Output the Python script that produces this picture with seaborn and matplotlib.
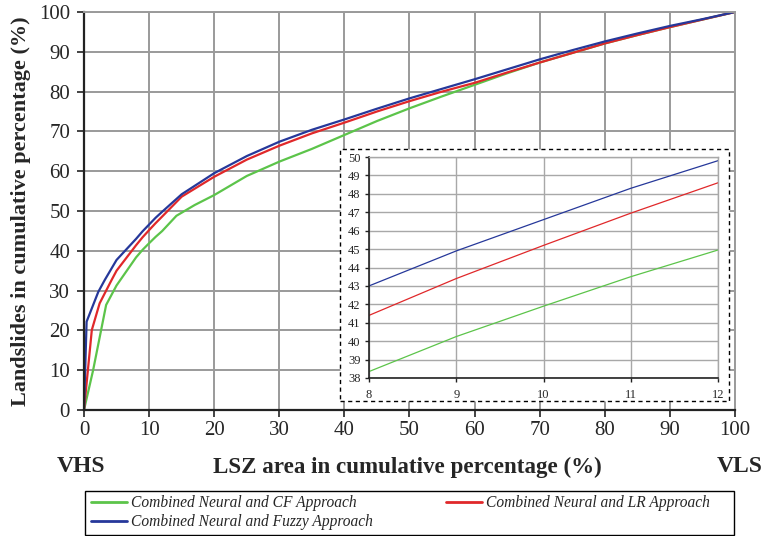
import matplotlib
matplotlib.use("Agg")
import matplotlib.pyplot as plt
import seaborn as sns
import pandas as pd
from matplotlib.patches import Rectangle

sns.set_theme(style="white")
plt.rcParams['font.family'] = ['Liberation Serif', 'DejaVu Serif']

# ---- data ----
x_cf = [0, 1.4, 3.4, 5, 8, 9, 10, 11, 12, 14.2, 17, 20, 25, 30, 35, 40, 45, 50, 55, 60, 65, 70, 75, 80, 85, 90, 95, 100]
y_cf = [0, 10, 26.4, 31.3, 38.35, 40.25, 41.9, 43.5, 44.95, 48.8, 51.5, 54.0, 58.8, 62.4, 65.6, 69.1, 72.6, 75.8, 78.8, 81.7, 84.6, 87.3, 89.7, 92.1, 94.2, 96.2, 98.1, 100]

x_lr = [0, 1.2, 2.4, 4.25, 5, 8, 9, 10, 11, 12, 15, 20, 25, 30, 35, 40, 45, 50, 55, 60, 65, 70, 75, 80, 85, 90, 95, 100]
y_lr = [0, 20.1, 26.8, 32.7, 35.0, 41.4, 43.4, 45.2, 46.95, 48.6, 53.6, 58.6, 62.9, 66.4, 69.5, 72.2, 75.0, 77.6, 80.0, 82.2, 84.8, 87.3, 89.7, 92.1, 94.2, 96.2, 98.1, 100]

x_fz = [0, 0.4, 2.2, 3.2, 5, 8, 9, 10, 11, 12, 15, 20, 25, 30, 35, 40, 45, 50, 55, 60, 65, 70, 75, 80, 85, 90, 95, 100]
y_fz = [0, 22.2, 29.7, 32.7, 37.7, 43.0, 44.9, 46.6, 48.3, 49.8, 54.2, 59.5, 63.8, 67.4, 70.4, 73.0, 75.7, 78.3, 80.7, 83.1, 85.6, 88.1, 90.4, 92.6, 94.6, 96.5, 98.2, 100]

labels = ["Combined Neural and CF Approach",
          "Combined Neural and LR Approach",
          "Combined Neural and Fuzzy Approach"]
colors = ["#5cc44a", "#e0282a", "#26389a"]

main_ticks = [0, 10, 20, 30, 40, 50, 60, 70, 80, 90, 100]
inset_xticks = [8, 9, 10, 11, 12]
inset_yticks = list(range(38, 51))

df = pd.concat([
    pd.DataFrame({"x": x_cf, "y": y_cf, "s": labels[0]}),
    pd.DataFrame({"x": x_lr, "y": y_lr, "s": labels[1]}),
    pd.DataFrame({"x": x_fz, "y": y_fz, "s": labels[2]}),
], ignore_index=True)
palette = dict(zip(labels, colors))

W, H = 765, 536
fig = plt.figure(figsize=(7.65, 5.36), dpi=100)
ax = fig.add_axes([84/W, 1-410/H, 651/W, 398/H])

sns.lineplot(data=df, x="x", y="y", hue="s", palette=palette, hue_order=labels,
             sort=False, estimator=None, linewidth=1.6, ax=ax, legend=False)

grid_c = "#9a9a9a"
ax.set_xlim(0, 100)
ax.set_ylim(0, 100)
ax.set_xticks(main_ticks)
ax.set_yticks(main_ticks)
ax.grid(True, color=grid_c, linewidth=1.4)
ax.set_axisbelow(True)
for s in ["top", "right"]:
    ax.spines[s].set_color(grid_c)
    ax.spines[s].set_linewidth(1.4)
for s in ["left", "bottom"]:
    ax.spines[s].set_color("#222222")
    ax.spines[s].set_linewidth(1.6)
ax.tick_params(axis="both", which="major", direction="out", length=5, width=1.2,
               color="#222222", labelsize=15, bottom=True, left=True)
ax.tick_params(axis="y", pad=5)
ax.tick_params(axis="x", pad=3)
ax.set_xlabel("")
ax.set_ylabel("Landslides in cumulative percentage (%)", fontsize=16,
              fontweight="bold", labelpad=6)

fig.text(407/W, 1-467/H, "LSZ area in cumulative percentage (%)", fontsize=16.6,
         fontweight="bold", ha="center", va="center")
fig.text(81/W, 1-467/H, "VHS", fontsize=17, fontweight="bold", ha="center", va="center")
fig.text(740/W, 1-467/H, "VLS", fontsize=17, fontweight="bold", ha="center", va="center")

# dashed inset frame
box = Rectangle((340/W, 1-401/H), 389/W, 252/H, transform=fig.transFigure,
                facecolor="white", edgecolor="black", linestyle=(0, (3, 2.5)),
                linewidth=1.0, zorder=5)
fig.patches.append(box)

ins = fig.add_axes([369/W, 1-378/H, 349/W, 221/H], zorder=6)
sns.lineplot(data=df, x="x", y="y", hue="s", palette=palette, hue_order=labels,
             sort=False, estimator=None, linewidth=0.9, ax=ins, legend=False)
ins.set_xlim(8, 12)
ins.set_ylim(38, 50)
ins.set_xticks(inset_xticks)
ins.set_yticks(inset_yticks)
ins.grid(True, color="#a8a8a8", linewidth=1.0)
ins.set_axisbelow(True)
for s in ["top", "right"]:
    ins.spines[s].set_color("#a8a8a8")
    ins.spines[s].set_linewidth(1.0)
for s in ["left", "bottom"]:
    ins.spines[s].set_color("#222222")
    ins.spines[s].set_linewidth(1.2)
ins.tick_params(axis="both", direction="out", length=3, width=1.0, color="#222222",
                labelsize=9, pad=3, bottom=True, left=True)
ins.tick_params(axis="x", pad=5)
ins.set_xlabel("")
ins.set_ylabel("")

# legend frame and entries
frame = Rectangle((85/W, 1-535/H), 649/W, 44/H, transform=fig.transFigure,
                  facecolor="white", edgecolor="black", linewidth=1.0, zorder=4)
fig.patches.append(frame)
handles = [plt.Line2D([], [], color=c, linewidth=2) for c in colors]
order = [0, 2, 1]
leg = fig.legend([handles[i] for i in order], [labels[i] for i in order],
                 loc="upper left", bbox_to_anchor=(91/W, 1-495/H),
                 ncol=2, frameon=False,
                 prop={"style": "italic", "size": 11.2}, handlelength=2.3,
                 handletextpad=0.25, labelspacing=0.2, borderpad=0,
                 borderaxespad=0, columnspacing=4.75)
leg.set_zorder(7)

fig.savefig("out.png", dpi=100)
